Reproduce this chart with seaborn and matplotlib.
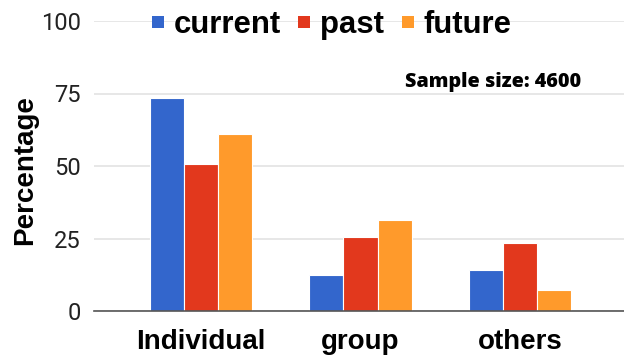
import matplotlib
matplotlib.use("Agg")
import matplotlib.pyplot as plt
from matplotlib.lines import Line2D
import seaborn as sns
import pandas as pd

categories = ["Individual", "group", "others"]
series = ["current", "past", "future"]
current = [73.3, 12.3, 14.1]
past = [50.7, 25.4, 23.6]
future = [61.0, 31.5, 7.2]
colors = ["#3366cc", "#e2381d", "#ff9a2b"]

df = pd.DataFrame({
    "category": categories * 3,
    "series": [s for s in series for _ in categories],
    "value": current + past + future,
})

sns.set_theme(style="white")
plt.rcParams["font.family"] = ["Roboto", "DejaVu Sans"]

fig = plt.figure(figsize=(6.24, 3.57), dpi=100)
ax = fig.add_axes([94 / 624, 46 / 357, 533 / 624, 290 / 357])

sns.barplot(data=df, x="category", y="value", hue="series", order=categories,
            hue_order=series, palette=colors, width=0.64, saturation=1,
            edgecolor="white", linewidth=0.8, legend=False, ax=ax, errorbar=None)

ax.set_xlim(-0.67, 2.67)
ax.set_ylim(0, 100)
ax.set_yticks([0, 25, 50, 75, 100])
ax.yaxis.grid(True, color="#e3e3e3", linewidth=1.2)
ax.set_axisbelow(True)
for s in ["top", "right", "left"]:
    ax.spines[s].set_visible(False)
ax.spines["bottom"].set_color("#555555")
ax.spines["bottom"].set_linewidth(1.2)
ax.spines["bottom"].set_zorder(5)
ax.tick_params(axis="y", length=0, pad=9.5, labelsize=17, labelcolor="#222222")
ax.tick_params(axis="x", length=0, pad=13)
for lab in ax.get_xticklabels():
    lab.set_fontfamily("Liberation Sans")
    lab.set_fontweight("bold")
    lab.set_fontsize(20)
    lab.set_color("black")

ax.set_xlabel("")
ax.set_ylabel("Percentage", fontfamily="Liberation Sans", fontweight="bold",
              fontsize=20, color="black")
ax.yaxis.set_label_coords(-0.105, 0.486)

handles = [Line2D([], [], marker="s", linestyle="", markersize=8.6,
                  markerfacecolor=c, markeredgewidth=0) for c in colors]
leg = ax.legend(handles, series, loc="center", bbox_to_anchor=(0.446, 0.985),
                ncol=3, frameon=False, handlelength=0.39,
                handletextpad=0.32, columnspacing=0.55,
                prop={"family": "Liberation Sans", "weight": "bold", "size": 22.4})
for t in leg.get_texts():
    t.set_color("black")

ax.text(0.748, 0.791, "Sample size: 4600", transform=ax.transAxes,
        ha="center", va="center", fontfamily="Open Sans", fontweight="heavy",
        fontsize=14.2, color="black")

fig.savefig("out.png", dpi=100)
